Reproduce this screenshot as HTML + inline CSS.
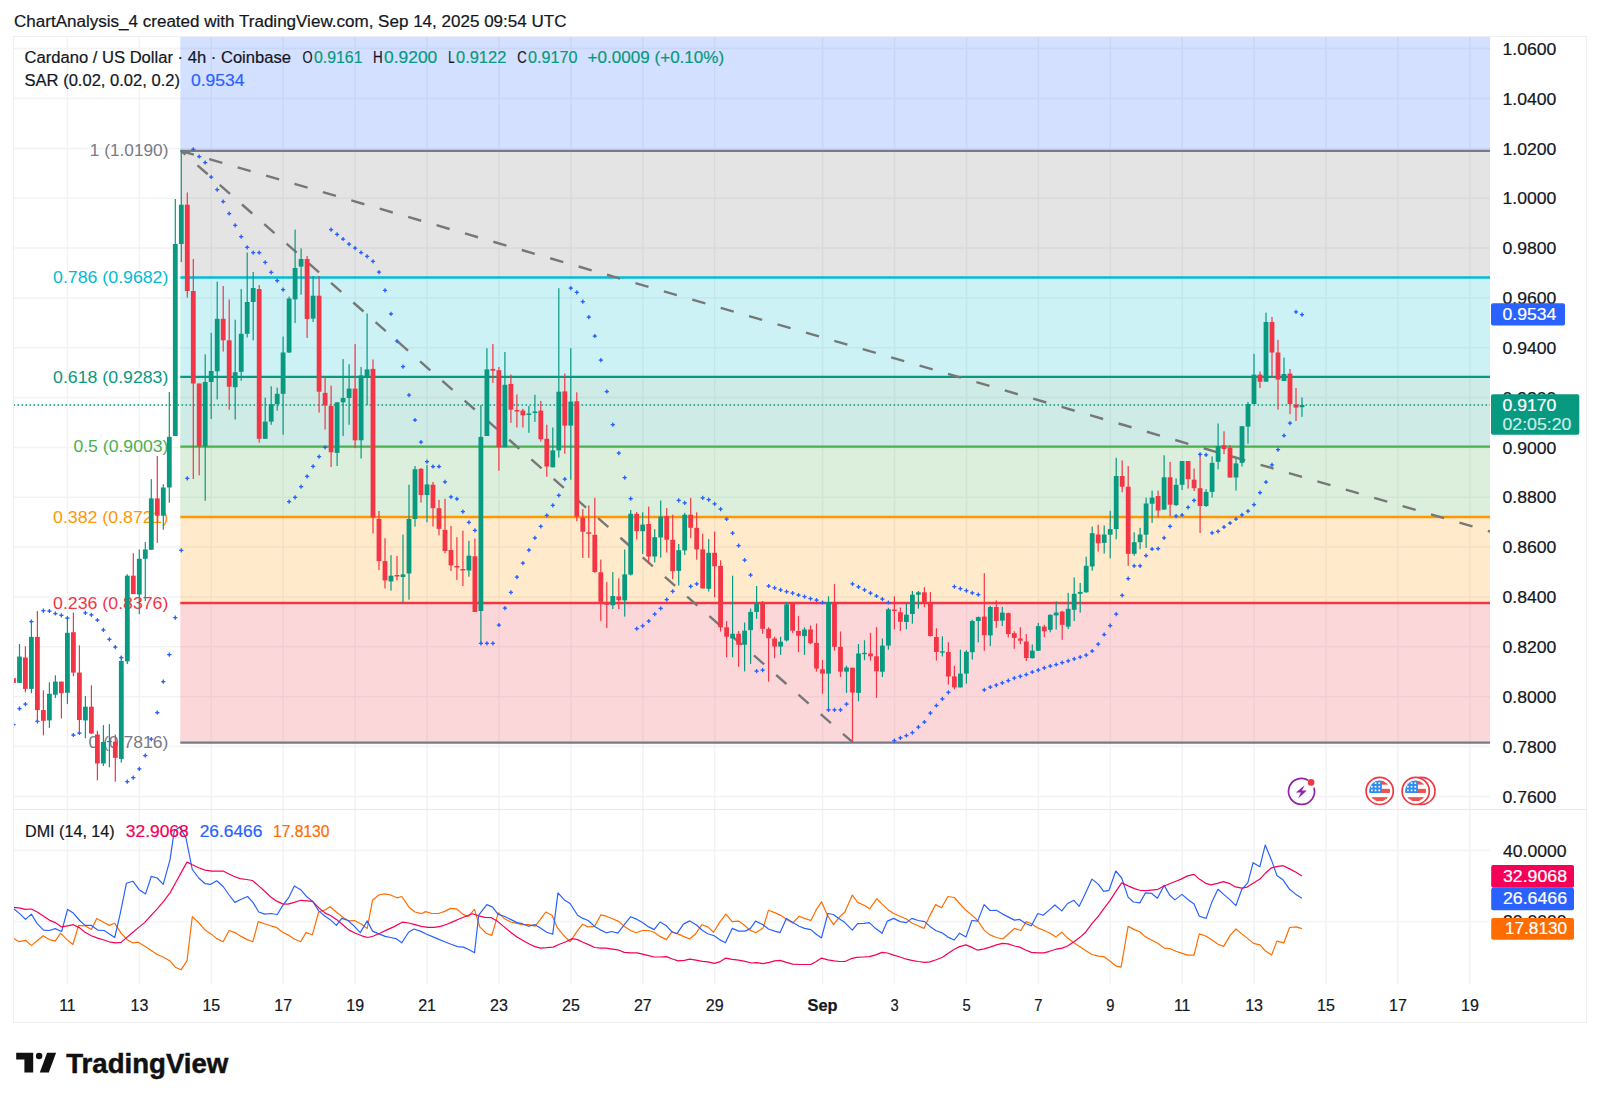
<!DOCTYPE html>
<html lang="en"><head><meta charset="utf-8"><title>ChartAnalysis_4 - TradingView</title>
<style>html,body{margin:0;padding:0;background:#fff}body{width:1600px;height:1103px;overflow:hidden}svg{display:block}</style></head>
<body>
<svg width="1600" height="1103" viewBox="0 0 1600 1103" font-family='"Liberation Sans", sans-serif' font-size="15.8">
<rect width="1600" height="1103" fill="#fff"/>
<defs>
<clipPath id="cm"><rect x="13.5" y="36.5" width="1476.5" height="773.0"/></clipPath>
<clipPath id="cd"><rect x="13.5" y="809.5" width="1476.5" height="174.5"/></clipPath>
</defs>
<g stroke="#f3f3f5" stroke-width="1.5">
<line x1="67.5" y1="36.5" x2="67.5" y2="984.0"/>
<line x1="139.4" y1="36.5" x2="139.4" y2="984.0"/>
<line x1="211.3" y1="36.5" x2="211.3" y2="984.0"/>
<line x1="283.2" y1="36.5" x2="283.2" y2="984.0"/>
<line x1="355.2" y1="36.5" x2="355.2" y2="984.0"/>
<line x1="427.1" y1="36.5" x2="427.1" y2="984.0"/>
<line x1="499.0" y1="36.5" x2="499.0" y2="984.0"/>
<line x1="570.9" y1="36.5" x2="570.9" y2="984.0"/>
<line x1="642.8" y1="36.5" x2="642.8" y2="984.0"/>
<line x1="714.7" y1="36.5" x2="714.7" y2="984.0"/>
<line x1="822.6" y1="36.5" x2="822.6" y2="984.0"/>
<line x1="894.5" y1="36.5" x2="894.5" y2="984.0"/>
<line x1="966.5" y1="36.5" x2="966.5" y2="984.0"/>
<line x1="1038.4" y1="36.5" x2="1038.4" y2="984.0"/>
<line x1="1110.3" y1="36.5" x2="1110.3" y2="984.0"/>
<line x1="1182.2" y1="36.5" x2="1182.2" y2="984.0"/>
<line x1="1254.1" y1="36.5" x2="1254.1" y2="984.0"/>
<line x1="1326.0" y1="36.5" x2="1326.0" y2="984.0"/>
<line x1="1397.9" y1="36.5" x2="1397.9" y2="984.0"/>
<line x1="1469.9" y1="36.5" x2="1469.9" y2="984.0"/>
<line x1="13.5" y1="48.6" x2="1490.0" y2="48.6"/>
<line x1="13.5" y1="98.5" x2="1490.0" y2="98.5"/>
<line x1="13.5" y1="148.4" x2="1490.0" y2="148.4"/>
<line x1="13.5" y1="198.2" x2="1490.0" y2="198.2"/>
<line x1="13.5" y1="248.0" x2="1490.0" y2="248.0"/>
<line x1="13.5" y1="297.9" x2="1490.0" y2="297.9"/>
<line x1="13.5" y1="347.7" x2="1490.0" y2="347.7"/>
<line x1="13.5" y1="397.6" x2="1490.0" y2="397.6"/>
<line x1="13.5" y1="447.5" x2="1490.0" y2="447.5"/>
<line x1="13.5" y1="497.3" x2="1490.0" y2="497.3"/>
<line x1="13.5" y1="547.1" x2="1490.0" y2="547.1"/>
<line x1="13.5" y1="597.0" x2="1490.0" y2="597.0"/>
<line x1="13.5" y1="646.8" x2="1490.0" y2="646.8"/>
<line x1="13.5" y1="696.7" x2="1490.0" y2="696.7"/>
<line x1="13.5" y1="746.6" x2="1490.0" y2="746.6"/>
<line x1="13.5" y1="796.4" x2="1490.0" y2="796.4"/>
<line x1="13.5" y1="850.4" x2="1490.0" y2="850.4"/>
<line x1="13.5" y1="921.6" x2="1490.0" y2="921.6"/>
</g>
<g clip-path="url(#cm)">
<rect x="180.3" y="36.5" width="1309.7" height="114.3" fill="#2962ff" fill-opacity="0.2"/>
<rect x="180.3" y="150.8" width="1309.7" height="126.6" fill="#78787c" fill-opacity="0.2"/>
<rect x="180.3" y="277.5" width="1309.7" height="99.5" fill="#00bcd4" fill-opacity="0.2"/>
<rect x="180.3" y="376.9" width="1309.7" height="69.8" fill="#089981" fill-opacity="0.2"/>
<rect x="180.3" y="446.7" width="1309.7" height="70.3" fill="#4caf50" fill-opacity="0.2"/>
<rect x="180.3" y="517.0" width="1309.7" height="86.0" fill="#ff9800" fill-opacity="0.2"/>
<rect x="180.3" y="603.0" width="1309.7" height="139.6" fill="#f23645" fill-opacity="0.2"/>
<text x="89.8" y="156.4" fill="#787b86" stroke="#787b86" stroke-width="0" textLength="78.6" lengthAdjust="spacingAndGlyphs">1 (1.0190)</text>
<text x="53.1" y="283.0" fill="#00bcd4" stroke="#00bcd4" stroke-width="0" textLength="115.3" lengthAdjust="spacingAndGlyphs">0.786 (0.9682)</text>
<text x="53.1" y="382.5" fill="#089981" stroke="#089981" stroke-width="0" textLength="115.3" lengthAdjust="spacingAndGlyphs">0.618 (0.9283)</text>
<text x="73.4" y="452.3" fill="#4caf50" stroke="#4caf50" stroke-width="0" textLength="95.0" lengthAdjust="spacingAndGlyphs">0.5 (0.9003)</text>
<text x="53.1" y="522.5" fill="#ff9800" stroke="#ff9800" stroke-width="0" textLength="115.3" lengthAdjust="spacingAndGlyphs">0.382 (0.8721)</text>
<text x="53.1" y="608.5" fill="#f23645" stroke="#f23645" stroke-width="0" textLength="115.3" lengthAdjust="spacingAndGlyphs">0.236 (0.8376)</text>
<text x="88.4" y="748.1" fill="#787b86" stroke="#787b86" stroke-width="0" textLength="80.0" lengthAdjust="spacingAndGlyphs">0 (0.7816)</text>
<line x1="180.3" y1="150.8" x2="1490.0" y2="150.8" stroke="#787b86" stroke-width="2.3"/>
<line x1="180.3" y1="277.5" x2="1490.0" y2="277.5" stroke="#00bcd4" stroke-width="2.3"/>
<line x1="180.3" y1="376.9" x2="1490.0" y2="376.9" stroke="#089981" stroke-width="2.3"/>
<line x1="180.3" y1="446.7" x2="1490.0" y2="446.7" stroke="#4caf50" stroke-width="2.3"/>
<line x1="180.3" y1="517.0" x2="1490.0" y2="517.0" stroke="#ff9800" stroke-width="2.3"/>
<line x1="180.3" y1="603.0" x2="1490.0" y2="603.0" stroke="#f23645" stroke-width="2.3"/>
<line x1="180.3" y1="742.6" x2="1490.0" y2="742.6" stroke="#787b86" stroke-width="2.3"/>
<g stroke="#777777" stroke-width="2.4" fill="none">
<line x1="181.3" y1="151" x2="1490.0" y2="531.5" stroke-dasharray="13.6 15.99" stroke-dashoffset="0.5"/>
<line x1="181.3" y1="151" x2="852.5" y2="742.2" stroke-dasharray="13.6 16.06" stroke-dashoffset="8.06"/>
</g>
<line x1="13.5" y1="405" x2="1490.0" y2="405" stroke="#089981" stroke-width="1.4" stroke-dasharray="1.6 2.4"/>
<g fill="#089981">
<rect x="18.9" y="644.0" width="1.2" height="38.9"/>
<rect x="17.1" y="656.6" width="4.8" height="26.3"/>
<rect x="30.8" y="621.0" width="1.2" height="72.2"/>
<rect x="29.0" y="636.9" width="4.8" height="52.0"/>
<rect x="48.8" y="682.3" width="1.2" height="45.6"/>
<rect x="47.0" y="693.8" width="4.8" height="26.6"/>
<rect x="54.8" y="675.4" width="1.2" height="22.5"/>
<rect x="53.0" y="681.6" width="4.8" height="13.1"/>
<rect x="66.8" y="618.1" width="1.2" height="86.0"/>
<rect x="65.0" y="632.8" width="4.8" height="60.0"/>
<rect x="84.8" y="696.0" width="1.2" height="42.2"/>
<rect x="83.0" y="706.7" width="4.8" height="13.7"/>
<rect x="102.8" y="725.1" width="1.2" height="40.9"/>
<rect x="101.0" y="742.0" width="4.8" height="21.5"/>
<rect x="108.8" y="724.1" width="1.2" height="43.2"/>
<rect x="107.0" y="741.0" width="4.8" height="1.2"/>
<rect x="120.7" y="656.6" width="1.2" height="106.0"/>
<rect x="118.9" y="660.9" width="4.8" height="98.0"/>
<rect x="126.7" y="574.2" width="1.2" height="89.9"/>
<rect x="124.9" y="575.7" width="4.8" height="85.6"/>
<rect x="138.7" y="549.5" width="1.2" height="64.7"/>
<rect x="136.9" y="558.8" width="4.8" height="35.7"/>
<rect x="144.7" y="542.0" width="1.2" height="59.0"/>
<rect x="142.9" y="549.5" width="4.8" height="9.3"/>
<rect x="150.7" y="479.1" width="1.2" height="70.7"/>
<rect x="148.9" y="498.4" width="4.8" height="51.4"/>
<rect x="162.7" y="484.2" width="1.2" height="45.6"/>
<rect x="160.9" y="487.5" width="4.8" height="28.2"/>
<rect x="168.7" y="392.0" width="1.2" height="110.6"/>
<rect x="166.9" y="436.9" width="4.8" height="50.6"/>
<rect x="174.7" y="199.0" width="1.2" height="237.0"/>
<rect x="172.9" y="244.0" width="4.8" height="192.0"/>
<rect x="180.7" y="150.3" width="1.2" height="111.7"/>
<rect x="178.9" y="204.7" width="4.8" height="39.3"/>
<rect x="204.6" y="354.4" width="1.2" height="146.3"/>
<rect x="202.8" y="382.0" width="4.8" height="64.3"/>
<rect x="210.6" y="332.8" width="1.2" height="86.2"/>
<rect x="208.8" y="371.0" width="4.8" height="11.0"/>
<rect x="216.6" y="281.6" width="1.2" height="117.8"/>
<rect x="214.8" y="318.8" width="4.8" height="52.5"/>
<rect x="234.6" y="319.7" width="1.2" height="99.8"/>
<rect x="232.8" y="372.2" width="4.8" height="15.0"/>
<rect x="240.6" y="289.0" width="1.2" height="91.7"/>
<rect x="238.8" y="333.8" width="4.8" height="38.0"/>
<rect x="246.6" y="252.5" width="1.2" height="85.0"/>
<rect x="244.8" y="302.0" width="4.8" height="31.8"/>
<rect x="252.6" y="272.0" width="1.2" height="68.3"/>
<rect x="250.8" y="288.0" width="4.8" height="14.0"/>
<rect x="264.6" y="397.6" width="1.2" height="41.2"/>
<rect x="262.8" y="421.6" width="4.8" height="17.2"/>
<rect x="270.6" y="386.3" width="1.2" height="38.5"/>
<rect x="268.8" y="404.1" width="4.8" height="17.5"/>
<rect x="276.6" y="387.6" width="1.2" height="23.1"/>
<rect x="274.8" y="393.8" width="4.8" height="10.3"/>
<rect x="282.5" y="336.6" width="1.2" height="98.1"/>
<rect x="280.7" y="352.5" width="4.8" height="41.3"/>
<rect x="288.5" y="296.6" width="1.2" height="56.4"/>
<rect x="286.7" y="298.5" width="4.8" height="54.0"/>
<rect x="294.5" y="229.6" width="1.2" height="93.4"/>
<rect x="292.7" y="268.0" width="4.8" height="31.4"/>
<rect x="300.5" y="248.4" width="1.2" height="46.3"/>
<rect x="298.7" y="259.0" width="4.8" height="7.6"/>
<rect x="312.5" y="276.0" width="1.2" height="46.0"/>
<rect x="310.7" y="295.7" width="4.8" height="22.9"/>
<rect x="336.5" y="402.3" width="1.2" height="63.7"/>
<rect x="334.7" y="402.3" width="4.8" height="50.6"/>
<rect x="342.5" y="359.1" width="1.2" height="76.9"/>
<rect x="340.7" y="398.0" width="4.8" height="4.3"/>
<rect x="348.5" y="364.2" width="1.2" height="60.6"/>
<rect x="346.7" y="388.6" width="4.8" height="9.4"/>
<rect x="360.5" y="367.0" width="1.2" height="91.5"/>
<rect x="358.7" y="375.4" width="4.8" height="64.9"/>
<rect x="366.5" y="313.5" width="1.2" height="91.5"/>
<rect x="364.7" y="369.4" width="4.8" height="7.0"/>
<rect x="390.4" y="555.1" width="1.2" height="35.6"/>
<rect x="388.6" y="575.7" width="4.8" height="5.7"/>
<rect x="402.4" y="534.5" width="1.2" height="68.1"/>
<rect x="400.6" y="574.4" width="4.8" height="2.6"/>
<rect x="408.4" y="484.7" width="1.2" height="115.0"/>
<rect x="406.6" y="519.0" width="4.8" height="54.5"/>
<rect x="414.4" y="466.0" width="1.2" height="60.6"/>
<rect x="412.6" y="469.2" width="4.8" height="49.8"/>
<rect x="426.4" y="465.0" width="1.2" height="57.3"/>
<rect x="424.6" y="484.4" width="4.8" height="10.6"/>
<rect x="468.3" y="540.7" width="1.2" height="36.0"/>
<rect x="466.5" y="555.7" width="4.8" height="14.8"/>
<rect x="480.3" y="405.0" width="1.2" height="238.8"/>
<rect x="478.5" y="436.9" width="4.8" height="174.1"/>
<rect x="486.3" y="348.2" width="1.2" height="87.8"/>
<rect x="484.5" y="369.4" width="4.8" height="66.6"/>
<rect x="504.3" y="352.0" width="1.2" height="95.2"/>
<rect x="502.5" y="384.8" width="4.8" height="62.4"/>
<rect x="528.3" y="406.0" width="1.2" height="26.8"/>
<rect x="526.5" y="413.5" width="4.8" height="1.5"/>
<rect x="534.3" y="394.7" width="1.2" height="27.2"/>
<rect x="532.5" y="411.5" width="4.8" height="1.5"/>
<rect x="552.2" y="427.5" width="1.2" height="39.8"/>
<rect x="550.4" y="450.4" width="4.8" height="16.9"/>
<rect x="558.2" y="288.2" width="1.2" height="169.3"/>
<rect x="556.4" y="391.7" width="4.8" height="58.7"/>
<rect x="570.2" y="348.2" width="1.2" height="131.5"/>
<rect x="568.4" y="401.6" width="4.8" height="24.0"/>
<rect x="612.2" y="572.1" width="1.2" height="36.9"/>
<rect x="610.4" y="596.0" width="4.8" height="9.3"/>
<rect x="624.1" y="549.5" width="1.2" height="67.1"/>
<rect x="622.3" y="574.4" width="4.8" height="26.0"/>
<rect x="630.1" y="510.0" width="1.2" height="65.5"/>
<rect x="628.3" y="513.8" width="4.8" height="60.8"/>
<rect x="642.1" y="512.3" width="1.2" height="41.7"/>
<rect x="640.3" y="524.6" width="4.8" height="6.6"/>
<rect x="654.1" y="529.1" width="1.2" height="33.3"/>
<rect x="652.3" y="537.2" width="4.8" height="19.3"/>
<rect x="660.1" y="500.6" width="1.2" height="57.1"/>
<rect x="658.3" y="516.6" width="4.8" height="20.9"/>
<rect x="678.1" y="544.0" width="1.2" height="41.5"/>
<rect x="676.3" y="550.2" width="4.8" height="20.7"/>
<rect x="684.1" y="512.8" width="1.2" height="42.2"/>
<rect x="682.3" y="514.7" width="4.8" height="35.7"/>
<rect x="708.1" y="539.1" width="1.2" height="52.5"/>
<rect x="706.3" y="552.8" width="4.8" height="36.0"/>
<rect x="732.0" y="575.7" width="1.2" height="81.6"/>
<rect x="730.2" y="633.8" width="4.8" height="4.7"/>
<rect x="744.0" y="622.6" width="1.2" height="48.8"/>
<rect x="742.2" y="630.7" width="4.8" height="14.0"/>
<rect x="750.0" y="608.5" width="1.2" height="55.4"/>
<rect x="748.2" y="611.9" width="4.8" height="18.2"/>
<rect x="756.0" y="586.0" width="1.2" height="32.8"/>
<rect x="754.2" y="603.8" width="4.8" height="8.1"/>
<rect x="780.0" y="636.7" width="1.2" height="18.2"/>
<rect x="778.2" y="641.7" width="4.8" height="4.9"/>
<rect x="786.0" y="602.0" width="1.2" height="39.4"/>
<rect x="784.2" y="604.4" width="4.8" height="36.0"/>
<rect x="803.9" y="627.3" width="1.2" height="27.6"/>
<rect x="802.1" y="629.5" width="4.8" height="6.6"/>
<rect x="827.9" y="596.3" width="1.2" height="113.5"/>
<rect x="826.1" y="602.0" width="4.8" height="71.6"/>
<rect x="845.9" y="665.7" width="1.2" height="27.2"/>
<rect x="844.1" y="667.5" width="4.8" height="4.2"/>
<rect x="857.9" y="643.9" width="1.2" height="57.4"/>
<rect x="856.1" y="653.5" width="4.8" height="39.4"/>
<rect x="863.9" y="640.3" width="1.2" height="19.9"/>
<rect x="862.1" y="652.8" width="4.8" height="1.4"/>
<rect x="881.8" y="638.5" width="1.2" height="38.5"/>
<rect x="880.0" y="645.6" width="4.8" height="26.1"/>
<rect x="887.8" y="607.8" width="1.2" height="41.9"/>
<rect x="886.0" y="609.3" width="4.8" height="36.3"/>
<rect x="905.8" y="603.5" width="1.2" height="25.8"/>
<rect x="904.0" y="614.7" width="4.8" height="7.3"/>
<rect x="911.8" y="591.0" width="1.2" height="32.6"/>
<rect x="910.0" y="594.7" width="4.8" height="19.3"/>
<rect x="917.8" y="591.0" width="1.2" height="17.6"/>
<rect x="916.0" y="592.3" width="4.8" height="2.4"/>
<rect x="941.8" y="636.3" width="1.2" height="20.2"/>
<rect x="940.0" y="651.3" width="4.8" height="1.4"/>
<rect x="959.8" y="649.6" width="1.2" height="37.8"/>
<rect x="958.0" y="673.6" width="4.8" height="13.8"/>
<rect x="965.8" y="650.2" width="1.2" height="33.5"/>
<rect x="964.0" y="651.8" width="4.8" height="21.8"/>
<rect x="971.7" y="619.7" width="1.2" height="39.9"/>
<rect x="969.9" y="621.0" width="4.8" height="31.2"/>
<rect x="977.7" y="616.5" width="1.2" height="25.9"/>
<rect x="975.9" y="617.1" width="4.8" height="3.9"/>
<rect x="989.7" y="605.8" width="1.2" height="40.2"/>
<rect x="987.9" y="607.0" width="4.8" height="28.4"/>
<rect x="1001.7" y="606.9" width="1.2" height="19.2"/>
<rect x="999.9" y="612.6" width="4.8" height="8.0"/>
<rect x="1031.7" y="644.5" width="1.2" height="14.0"/>
<rect x="1029.9" y="650.7" width="4.8" height="7.5"/>
<rect x="1037.7" y="622.9" width="1.2" height="28.1"/>
<rect x="1035.9" y="626.1" width="4.8" height="24.6"/>
<rect x="1049.7" y="614.4" width="1.2" height="17.9"/>
<rect x="1047.9" y="614.8" width="4.8" height="15.0"/>
<rect x="1055.6" y="601.3" width="1.2" height="28.2"/>
<rect x="1053.8" y="612.6" width="4.8" height="2.8"/>
<rect x="1067.6" y="592.9" width="1.2" height="36.2"/>
<rect x="1065.8" y="608.8" width="4.8" height="17.8"/>
<rect x="1073.6" y="577.3" width="1.2" height="43.7"/>
<rect x="1071.8" y="593.8" width="4.8" height="16.0"/>
<rect x="1079.6" y="582.9" width="1.2" height="29.7"/>
<rect x="1077.8" y="591.9" width="4.8" height="1.9"/>
<rect x="1085.6" y="556.7" width="1.2" height="36.1"/>
<rect x="1083.8" y="565.8" width="4.8" height="26.5"/>
<rect x="1091.6" y="526.6" width="1.2" height="44.1"/>
<rect x="1089.8" y="533.2" width="4.8" height="33.2"/>
<rect x="1103.6" y="525.5" width="1.2" height="28.1"/>
<rect x="1101.8" y="534.5" width="4.8" height="8.4"/>
<rect x="1109.6" y="510.8" width="1.2" height="47.6"/>
<rect x="1107.8" y="529.1" width="4.8" height="5.6"/>
<rect x="1115.6" y="457.8" width="1.2" height="81.5"/>
<rect x="1113.8" y="476.0" width="4.8" height="53.1"/>
<rect x="1133.6" y="532.3" width="1.2" height="23.4"/>
<rect x="1131.8" y="542.2" width="4.8" height="11.6"/>
<rect x="1139.5" y="527.8" width="1.2" height="21.4"/>
<rect x="1137.7" y="534.5" width="4.8" height="7.7"/>
<rect x="1145.5" y="497.6" width="1.2" height="50.4"/>
<rect x="1143.7" y="503.5" width="4.8" height="31.2"/>
<rect x="1151.5" y="490.6" width="1.2" height="32.3"/>
<rect x="1149.7" y="497.6" width="4.8" height="6.1"/>
<rect x="1163.5" y="455.3" width="1.2" height="54.5"/>
<rect x="1161.7" y="477.3" width="4.8" height="32.3"/>
<rect x="1175.5" y="478.4" width="1.2" height="27.6"/>
<rect x="1173.7" y="484.8" width="4.8" height="20.3"/>
<rect x="1181.5" y="461.0" width="1.2" height="29.0"/>
<rect x="1179.7" y="461.0" width="4.8" height="23.8"/>
<rect x="1205.5" y="489.1" width="1.2" height="17.8"/>
<rect x="1203.7" y="491.9" width="4.8" height="14.1"/>
<rect x="1211.5" y="456.4" width="1.2" height="41.2"/>
<rect x="1209.7" y="462.9" width="4.8" height="29.0"/>
<rect x="1217.5" y="423.5" width="1.2" height="45.8"/>
<rect x="1215.7" y="446.2" width="4.8" height="15.6"/>
<rect x="1235.4" y="459.1" width="1.2" height="31.5"/>
<rect x="1233.6" y="463.4" width="4.8" height="14.1"/>
<rect x="1241.4" y="426.0" width="1.2" height="40.6"/>
<rect x="1239.6" y="426.2" width="4.8" height="36.7"/>
<rect x="1247.4" y="401.9" width="1.2" height="41.8"/>
<rect x="1245.6" y="404.0" width="4.8" height="22.6"/>
<rect x="1253.4" y="353.8" width="1.2" height="50.2"/>
<rect x="1251.6" y="374.6" width="4.8" height="29.4"/>
<rect x="1265.4" y="312.6" width="1.2" height="69.1"/>
<rect x="1263.6" y="322.0" width="4.8" height="59.7"/>
<rect x="1283.4" y="357.6" width="1.2" height="23.4"/>
<rect x="1281.6" y="374.0" width="4.8" height="7.0"/>
<rect x="1301.4" y="397.5" width="1.2" height="19.4"/>
<rect x="1299.6" y="405.0" width="4.8" height="2.2"/>
</g>
<g fill="#f23645">
<rect x="12.9" y="678.2" width="1.2" height="4.7"/>
<rect x="11.1" y="678.2" width="4.8" height="4.7"/>
<rect x="24.8" y="646.3" width="1.2" height="46.0"/>
<rect x="23.0" y="657.5" width="4.8" height="31.4"/>
<rect x="36.8" y="611.0" width="1.2" height="110.3"/>
<rect x="35.0" y="636.9" width="4.8" height="73.2"/>
<rect x="42.8" y="690.4" width="1.2" height="45.0"/>
<rect x="41.0" y="710.1" width="4.8" height="10.7"/>
<rect x="60.8" y="681.6" width="1.2" height="36.9"/>
<rect x="59.0" y="681.6" width="4.8" height="11.6"/>
<rect x="72.8" y="612.5" width="1.2" height="63.8"/>
<rect x="71.0" y="632.2" width="4.8" height="40.4"/>
<rect x="78.8" y="645.3" width="1.2" height="86.4"/>
<rect x="77.0" y="672.6" width="4.8" height="47.4"/>
<rect x="90.8" y="685.3" width="1.2" height="48.7"/>
<rect x="89.0" y="706.7" width="4.8" height="26.8"/>
<rect x="96.8" y="730.7" width="1.2" height="49.7"/>
<rect x="95.0" y="734.5" width="4.8" height="29.0"/>
<rect x="114.7" y="734.5" width="1.2" height="47.2"/>
<rect x="112.9" y="741.6" width="4.8" height="16.3"/>
<rect x="132.7" y="553.2" width="1.2" height="40.9"/>
<rect x="130.9" y="575.7" width="4.8" height="18.4"/>
<rect x="156.7" y="456.0" width="1.2" height="86.9"/>
<rect x="154.9" y="498.4" width="4.8" height="17.3"/>
<rect x="186.7" y="192.5" width="1.2" height="105.1"/>
<rect x="184.9" y="204.7" width="4.8" height="86.3"/>
<rect x="192.7" y="259.0" width="1.2" height="220.0"/>
<rect x="190.9" y="291.0" width="4.8" height="92.5"/>
<rect x="198.6" y="383.5" width="1.2" height="91.9"/>
<rect x="196.8" y="383.5" width="4.8" height="62.8"/>
<rect x="222.6" y="286.0" width="1.2" height="65.6"/>
<rect x="220.8" y="318.8" width="4.8" height="21.5"/>
<rect x="228.6" y="299.5" width="1.2" height="110.2"/>
<rect x="226.8" y="340.3" width="4.8" height="46.4"/>
<rect x="258.6" y="285.0" width="1.2" height="157.6"/>
<rect x="256.8" y="289.0" width="4.8" height="149.8"/>
<rect x="306.5" y="256.0" width="1.2" height="82.0"/>
<rect x="304.7" y="259.0" width="4.8" height="60.0"/>
<rect x="318.5" y="276.0" width="1.2" height="136.6"/>
<rect x="316.7" y="295.7" width="4.8" height="96.0"/>
<rect x="324.5" y="376.4" width="1.2" height="53.1"/>
<rect x="322.7" y="392.9" width="4.8" height="12.5"/>
<rect x="330.5" y="385.7" width="1.2" height="81.3"/>
<rect x="328.7" y="406.0" width="4.8" height="46.3"/>
<rect x="354.5" y="344.0" width="1.2" height="104.2"/>
<rect x="352.7" y="388.6" width="4.8" height="51.7"/>
<rect x="372.4" y="359.5" width="1.2" height="174.0"/>
<rect x="370.6" y="368.9" width="4.8" height="148.7"/>
<rect x="378.4" y="511.0" width="1.2" height="59.1"/>
<rect x="376.6" y="519.0" width="4.8" height="42.1"/>
<rect x="384.4" y="538.2" width="1.2" height="50.3"/>
<rect x="382.6" y="561.1" width="4.8" height="19.3"/>
<rect x="396.4" y="556.0" width="1.2" height="24.4"/>
<rect x="394.6" y="575.0" width="4.8" height="1.5"/>
<rect x="420.4" y="468.0" width="1.2" height="34.6"/>
<rect x="418.6" y="468.8" width="4.8" height="26.2"/>
<rect x="432.4" y="481.9" width="1.2" height="44.7"/>
<rect x="430.6" y="484.7" width="4.8" height="23.5"/>
<rect x="438.4" y="499.8" width="1.2" height="35.6"/>
<rect x="436.6" y="508.2" width="4.8" height="20.6"/>
<rect x="444.4" y="498.8" width="1.2" height="54.4"/>
<rect x="442.6" y="529.8" width="4.8" height="21.2"/>
<rect x="450.4" y="526.0" width="1.2" height="45.0"/>
<rect x="448.6" y="550.0" width="4.8" height="15.4"/>
<rect x="456.3" y="537.3" width="1.2" height="42.6"/>
<rect x="454.5" y="566.0" width="4.8" height="1.5"/>
<rect x="462.3" y="530.7" width="1.2" height="55.3"/>
<rect x="460.5" y="569.0" width="4.8" height="1.5"/>
<rect x="474.3" y="538.5" width="1.2" height="73.5"/>
<rect x="472.5" y="556.3" width="4.8" height="55.7"/>
<rect x="492.3" y="344.0" width="1.2" height="38.9"/>
<rect x="490.5" y="368.9" width="4.8" height="1.8"/>
<rect x="498.3" y="367.0" width="1.2" height="103.7"/>
<rect x="496.5" y="370.2" width="4.8" height="77.0"/>
<rect x="510.3" y="374.5" width="1.2" height="48.3"/>
<rect x="508.5" y="383.9" width="4.8" height="25.8"/>
<rect x="516.3" y="394.5" width="1.2" height="33.0"/>
<rect x="514.5" y="410.0" width="4.8" height="1.5"/>
<rect x="522.3" y="408.8" width="1.2" height="18.7"/>
<rect x="520.5" y="410.6" width="4.8" height="4.7"/>
<rect x="540.2" y="401.0" width="1.2" height="40.6"/>
<rect x="538.4" y="410.6" width="4.8" height="28.6"/>
<rect x="546.2" y="424.7" width="1.2" height="52.0"/>
<rect x="544.4" y="438.8" width="4.8" height="27.7"/>
<rect x="564.2" y="373.5" width="1.2" height="80.3"/>
<rect x="562.4" y="391.4" width="4.8" height="34.2"/>
<rect x="576.2" y="392.3" width="1.2" height="129.0"/>
<rect x="574.4" y="401.3" width="4.8" height="115.3"/>
<rect x="582.2" y="509.1" width="1.2" height="48.8"/>
<rect x="580.4" y="517.6" width="4.8" height="14.1"/>
<rect x="588.2" y="505.4" width="1.2" height="52.5"/>
<rect x="586.4" y="532.3" width="4.8" height="1.5"/>
<rect x="594.2" y="497.9" width="1.2" height="75.0"/>
<rect x="592.4" y="534.8" width="4.8" height="37.2"/>
<rect x="600.2" y="559.6" width="1.2" height="61.4"/>
<rect x="598.4" y="572.3" width="4.8" height="29.5"/>
<rect x="606.2" y="582.2" width="1.2" height="45.8"/>
<rect x="604.4" y="603.3" width="4.8" height="1.5"/>
<rect x="618.2" y="578.4" width="1.2" height="30.6"/>
<rect x="616.4" y="596.4" width="4.8" height="3.8"/>
<rect x="636.1" y="511.9" width="1.2" height="27.5"/>
<rect x="634.3" y="513.8" width="4.8" height="17.4"/>
<rect x="648.1" y="506.6" width="1.2" height="56.7"/>
<rect x="646.3" y="524.0" width="4.8" height="32.5"/>
<rect x="666.1" y="508.1" width="1.2" height="44.4"/>
<rect x="664.3" y="516.0" width="4.8" height="23.7"/>
<rect x="672.1" y="514.7" width="1.2" height="64.5"/>
<rect x="670.3" y="539.8" width="4.8" height="31.4"/>
<rect x="690.1" y="497.8" width="1.2" height="40.4"/>
<rect x="688.3" y="514.7" width="4.8" height="13.1"/>
<rect x="696.1" y="512.3" width="1.2" height="47.4"/>
<rect x="694.3" y="527.8" width="4.8" height="21.6"/>
<rect x="702.1" y="533.8" width="1.2" height="54.6"/>
<rect x="700.3" y="549.4" width="4.8" height="39.0"/>
<rect x="714.0" y="531.6" width="1.2" height="65.7"/>
<rect x="712.2" y="552.8" width="4.8" height="13.5"/>
<rect x="720.0" y="560.3" width="1.2" height="71.3"/>
<rect x="718.2" y="565.9" width="4.8" height="61.4"/>
<rect x="726.0" y="621.0" width="1.2" height="36.3"/>
<rect x="724.2" y="627.3" width="4.8" height="9.4"/>
<rect x="738.0" y="631.0" width="1.2" height="35.7"/>
<rect x="736.2" y="633.8" width="4.8" height="10.9"/>
<rect x="762.0" y="601.0" width="1.2" height="32.8"/>
<rect x="760.2" y="602.9" width="4.8" height="25.9"/>
<rect x="768.0" y="627.3" width="1.2" height="54.4"/>
<rect x="766.2" y="628.8" width="4.8" height="9.4"/>
<rect x="774.0" y="636.7" width="1.2" height="21.5"/>
<rect x="772.2" y="638.5" width="4.8" height="8.1"/>
<rect x="792.0" y="602.9" width="1.2" height="30.0"/>
<rect x="790.2" y="602.9" width="4.8" height="27.8"/>
<rect x="797.9" y="616.0" width="1.2" height="36.2"/>
<rect x="796.1" y="631.0" width="4.8" height="4.7"/>
<rect x="809.9" y="625.4" width="1.2" height="18.8"/>
<rect x="808.1" y="629.5" width="4.8" height="13.7"/>
<rect x="815.9" y="623.5" width="1.2" height="48.2"/>
<rect x="814.1" y="642.9" width="4.8" height="25.7"/>
<rect x="821.9" y="660.0" width="1.2" height="33.8"/>
<rect x="820.1" y="669.3" width="4.8" height="4.3"/>
<rect x="833.9" y="584.1" width="1.2" height="66.6"/>
<rect x="832.1" y="602.0" width="4.8" height="44.8"/>
<rect x="839.9" y="631.5" width="1.2" height="45.5"/>
<rect x="838.1" y="646.8" width="4.8" height="24.9"/>
<rect x="851.9" y="667.7" width="1.2" height="74.0"/>
<rect x="850.1" y="667.7" width="4.8" height="24.8"/>
<rect x="869.9" y="632.8" width="1.2" height="27.9"/>
<rect x="868.1" y="653.5" width="4.8" height="2.8"/>
<rect x="875.9" y="627.2" width="1.2" height="70.7"/>
<rect x="874.1" y="656.3" width="4.8" height="15.0"/>
<rect x="893.8" y="596.3" width="1.2" height="33.1"/>
<rect x="892.0" y="609.5" width="4.8" height="1.5"/>
<rect x="899.8" y="607.5" width="1.2" height="23.5"/>
<rect x="898.0" y="612.2" width="4.8" height="9.6"/>
<rect x="923.8" y="587.2" width="1.2" height="20.0"/>
<rect x="922.0" y="592.3" width="4.8" height="11.7"/>
<rect x="929.8" y="591.9" width="1.2" height="44.6"/>
<rect x="928.0" y="602.0" width="4.8" height="34.0"/>
<rect x="935.8" y="628.3" width="1.2" height="32.2"/>
<rect x="934.0" y="637.0" width="4.8" height="15.0"/>
<rect x="947.8" y="642.2" width="1.2" height="42.4"/>
<rect x="946.0" y="652.0" width="4.8" height="24.4"/>
<rect x="953.8" y="665.8" width="1.2" height="23.5"/>
<rect x="952.0" y="676.4" width="4.8" height="11.0"/>
<rect x="983.7" y="573.2" width="1.2" height="77.6"/>
<rect x="981.9" y="616.6" width="4.8" height="18.6"/>
<rect x="995.7" y="600.4" width="1.2" height="27.4"/>
<rect x="993.9" y="607.0" width="4.8" height="14.0"/>
<rect x="1007.7" y="612.6" width="1.2" height="24.9"/>
<rect x="1005.9" y="613.1" width="4.8" height="21.0"/>
<rect x="1013.7" y="631.3" width="1.2" height="17.5"/>
<rect x="1011.9" y="633.2" width="4.8" height="4.7"/>
<rect x="1019.7" y="627.2" width="1.2" height="16.9"/>
<rect x="1017.9" y="638.5" width="4.8" height="2.2"/>
<rect x="1025.7" y="634.1" width="1.2" height="26.9"/>
<rect x="1023.9" y="641.6" width="4.8" height="16.4"/>
<rect x="1043.7" y="624.8" width="1.2" height="12.2"/>
<rect x="1041.9" y="626.6" width="4.8" height="4.7"/>
<rect x="1061.6" y="610.7" width="1.2" height="29.1"/>
<rect x="1059.8" y="611.6" width="4.8" height="13.2"/>
<rect x="1097.6" y="524.8" width="1.2" height="26.8"/>
<rect x="1095.8" y="534.5" width="4.8" height="8.8"/>
<rect x="1121.6" y="460.4" width="1.2" height="31.9"/>
<rect x="1119.8" y="476.0" width="4.8" height="10.7"/>
<rect x="1127.6" y="466.0" width="1.2" height="99.8"/>
<rect x="1125.8" y="486.7" width="4.8" height="67.1"/>
<rect x="1157.5" y="490.6" width="1.2" height="26.7"/>
<rect x="1155.7" y="496.0" width="4.8" height="14.5"/>
<rect x="1169.5" y="461.9" width="1.2" height="54.3"/>
<rect x="1167.7" y="477.3" width="4.8" height="27.4"/>
<rect x="1187.5" y="461.0" width="1.2" height="27.6"/>
<rect x="1185.7" y="461.0" width="4.8" height="18.2"/>
<rect x="1193.5" y="468.5" width="1.2" height="22.5"/>
<rect x="1191.7" y="479.7" width="4.8" height="8.5"/>
<rect x="1199.5" y="453.5" width="1.2" height="79.5"/>
<rect x="1197.7" y="488.2" width="4.8" height="17.8"/>
<rect x="1223.4" y="431.3" width="1.2" height="22.9"/>
<rect x="1221.6" y="445.3" width="4.8" height="3.8"/>
<rect x="1229.4" y="445.0" width="1.2" height="32.6"/>
<rect x="1227.6" y="447.8" width="4.8" height="29.7"/>
<rect x="1259.4" y="371.5" width="1.2" height="16.5"/>
<rect x="1257.6" y="374.6" width="4.8" height="7.1"/>
<rect x="1271.4" y="317.0" width="1.2" height="59.6"/>
<rect x="1269.6" y="322.0" width="4.8" height="30.5"/>
<rect x="1277.4" y="339.8" width="1.2" height="69.8"/>
<rect x="1275.6" y="352.5" width="4.8" height="27.1"/>
<rect x="1289.4" y="369.0" width="1.2" height="45.2"/>
<rect x="1287.6" y="373.6" width="4.8" height="30.4"/>
<rect x="1295.4" y="388.0" width="1.2" height="33.0"/>
<rect x="1293.6" y="404.5" width="4.8" height="3.1"/>
</g>
<path d="M11.4 724.5h4.2M13.5 722.4v4.2M17.4 708.6h4.2M19.5 706.5v4.2M23.3 704.1h4.2M25.4 702.0v4.2M29.3 621.5h4.2M31.4 619.4v4.2M35.3 721.3h4.2M37.4 719.2v4.2M41.3 610.6h4.2M43.4 608.5v4.2M47.3 611.0h4.2M49.4 608.9v4.2M53.3 613.5h4.2M55.4 611.4v4.2M59.3 615.3h4.2M61.4 613.2v4.2M65.3 618.1h4.2M67.4 616.0v4.2M71.3 735.0h4.2M73.4 732.9v4.2M77.3 733.0h4.2M79.4 730.9v4.2M83.3 612.9h4.2M85.4 610.8v4.2M89.3 614.8h4.2M91.4 612.7v4.2M95.3 620.0h4.2M97.4 617.9v4.2M101.3 629.8h4.2M103.4 627.7v4.2M107.3 639.3h4.2M109.4 637.2v4.2M113.2 647.2h4.2M115.3 645.1v4.2M119.2 657.5h4.2M121.3 655.4v4.2M125.2 781.7h4.2M127.3 779.6v4.2M131.2 777.6h4.2M133.3 775.5v4.2M137.2 768.8h4.2M139.3 766.7v4.2M143.2 755.5h4.2M145.3 753.4v4.2M149.2 739.2h4.2M151.3 737.1v4.2M155.2 712.5h4.2M157.3 710.4v4.2M161.2 681.6h4.2M163.3 679.5v4.2M167.2 654.7h4.2M169.3 652.6v4.2M173.2 617.6h4.2M175.3 615.5v4.2M179.2 550.4h4.2M181.3 548.3v4.2M185.2 478.4h4.2M187.3 476.3v4.2M191.2 149.4h4.2M193.3 147.3v4.2M197.1 156.5h4.2M199.2 154.4v4.2M203.1 162.5h4.2M205.2 160.4v4.2M209.1 177.0h4.2M211.2 174.9v4.2M215.1 189.7h4.2M217.2 187.6v4.2M221.1 201.5h4.2M223.2 199.4v4.2M227.1 213.5h4.2M229.2 211.4v4.2M233.1 225.4h4.2M235.2 223.3v4.2M239.1 236.6h4.2M241.2 234.5v4.2M245.1 247.3h4.2M247.2 245.2v4.2M251.1 252.6h4.2M253.2 250.5v4.2M257.1 252.6h4.2M259.2 250.5v4.2M263.1 262.3h4.2M265.2 260.2v4.2M269.1 272.3h4.2M271.2 270.2v4.2M275.1 280.7h4.2M277.2 278.6v4.2M281.0 289.6h4.2M283.1 287.5v4.2M287.0 501.7h4.2M289.1 499.6v4.2M293.0 497.4h4.2M295.1 495.3v4.2M299.0 486.7h4.2M301.1 484.6v4.2M305.0 476.4h4.2M307.1 474.3v4.2M311.0 466.4h4.2M313.1 464.3v4.2M317.0 456.7h4.2M319.1 454.6v4.2M323.0 447.3h4.2M325.1 445.2v4.2M329.0 229.6h4.2M331.1 227.5v4.2M335.0 234.3h4.2M337.1 232.2v4.2M341.0 239.0h4.2M343.1 236.9v4.2M347.0 244.1h4.2M349.1 242.0v4.2M353.0 248.2h4.2M355.1 246.1v4.2M359.0 252.5h4.2M361.1 250.4v4.2M365.0 256.3h4.2M367.1 254.2v4.2M370.9 261.4h4.2M373.0 259.3v4.2M376.9 272.2h4.2M379.0 270.1v4.2M382.9 290.4h4.2M385.0 288.3v4.2M388.9 313.9h4.2M391.0 311.8v4.2M394.9 341.1h4.2M397.0 339.0v4.2M400.9 366.6h4.2M403.0 364.5v4.2M406.9 395.2h4.2M409.0 393.1v4.2M412.9 420.0h4.2M415.0 417.9v4.2M418.9 442.2h4.2M421.0 440.1v4.2M424.9 461.7h4.2M427.0 459.6v4.2M430.9 466.5h4.2M433.0 464.4v4.2M436.9 466.5h4.2M439.0 464.4v4.2M442.9 481.9h4.2M445.0 479.8v4.2M448.9 496.9h4.2M451.0 494.8v4.2M454.8 498.8h4.2M456.9 496.7v4.2M460.8 511.6h4.2M462.9 509.5v4.2M466.8 522.3h4.2M468.9 520.2v4.2M472.8 530.3h4.2M474.9 528.2v4.2M478.8 643.3h4.2M480.9 641.2v4.2M484.8 643.3h4.2M486.9 641.2v4.2M490.8 643.3h4.2M492.9 641.2v4.2M496.8 625.0h4.2M498.9 622.9v4.2M502.8 608.2h4.2M504.9 606.1v4.2M508.8 592.3h4.2M510.9 590.2v4.2M514.8 577.2h4.2M516.9 575.1v4.2M520.8 563.2h4.2M522.9 561.1v4.2M526.8 550.2h4.2M528.9 548.1v4.2M532.8 537.8h4.2M534.9 535.7v4.2M538.7 526.3h4.2M540.8 524.2v4.2M544.7 515.3h4.2M546.8 513.2v4.2M550.7 505.4h4.2M552.8 503.3v4.2M556.7 495.4h4.2M558.8 493.3v4.2M562.7 479.1h4.2M564.8 477.0v4.2M568.7 288.2h4.2M570.8 286.1v4.2M574.7 292.3h4.2M576.8 290.2v4.2M580.7 301.7h4.2M582.8 299.6v4.2M586.7 317.2h4.2M588.8 315.1v4.2M592.7 336.0h4.2M594.8 333.9v4.2M598.7 360.2h4.2M600.8 358.1v4.2M604.7 391.5h4.2M606.8 389.4v4.2M610.7 424.7h4.2M612.8 422.6v4.2M616.7 453.2h4.2M618.8 451.1v4.2M622.6 477.6h4.2M624.7 475.5v4.2M628.6 498.6h4.2M630.7 496.5v4.2M634.6 628.6h4.2M636.7 626.5v4.2M640.6 625.9h4.2M642.7 623.8v4.2M646.6 621.0h4.2M648.7 618.9v4.2M652.6 614.2h4.2M654.7 612.1v4.2M658.6 608.4h4.2M660.7 606.3v4.2M664.6 599.5h4.2M666.7 597.4v4.2M670.6 591.3h4.2M672.7 589.2v4.2M676.6 500.3h4.2M678.7 498.2v4.2M682.6 502.9h4.2M684.7 500.8v4.2M688.6 586.4h4.2M690.7 584.3v4.2M694.6 583.8h4.2M696.7 581.7v4.2M700.6 497.8h4.2M702.7 495.7v4.2M706.6 499.7h4.2M708.7 497.6v4.2M712.5 503.8h4.2M714.6 501.7v4.2M718.5 509.1h4.2M720.6 507.0v4.2M724.5 519.0h4.2M726.6 516.9v4.2M730.5 533.1h4.2M732.6 531.0v4.2M736.5 545.7h4.2M738.6 543.6v4.2M742.5 560.1h4.2M744.6 558.0v4.2M748.5 575.1h4.2M750.6 573.0v4.2M754.5 671.2h4.2M756.6 669.1v4.2M760.5 670.2h4.2M762.6 668.1v4.2M766.5 586.0h4.2M768.6 583.9v4.2M772.5 587.9h4.2M774.6 585.8v4.2M778.5 589.8h4.2M780.6 587.7v4.2M784.5 591.6h4.2M786.6 589.5v4.2M790.5 593.1h4.2M792.6 591.0v4.2M796.4 595.0h4.2M798.5 592.9v4.2M802.4 596.7h4.2M804.5 594.6v4.2M808.4 598.6h4.2M810.5 596.5v4.2M814.4 600.0h4.2M816.5 597.9v4.2M820.4 602.5h4.2M822.5 600.4v4.2M826.4 709.8h4.2M828.5 707.7v4.2M832.4 709.8h4.2M834.5 707.7v4.2M838.4 709.8h4.2M840.5 707.7v4.2M844.4 704.1h4.2M846.5 702.0v4.2M850.4 583.8h4.2M852.5 581.7v4.2M856.4 586.9h4.2M858.5 584.8v4.2M862.4 589.8h4.2M864.5 587.7v4.2M868.4 593.1h4.2M870.5 591.0v4.2M874.4 596.0h4.2M876.5 593.9v4.2M880.3 599.1h4.2M882.4 597.0v4.2M886.3 602.5h4.2M888.4 600.4v4.2M892.3 740.7h4.2M894.4 738.6v4.2M898.3 737.9h4.2M900.4 735.8v4.2M904.3 735.5h4.2M906.4 733.4v4.2M910.3 732.6h4.2M912.4 730.5v4.2M916.3 727.2h4.2M918.4 725.1v4.2M922.3 722.0h4.2M924.4 719.9v4.2M928.3 713.1h4.2M930.4 711.0v4.2M934.3 705.5h4.2M936.4 703.4v4.2M940.3 698.9h4.2M942.4 696.8v4.2M946.3 692.4h4.2M948.4 690.3v4.2M952.3 586.7h4.2M954.4 584.6v4.2M958.3 588.7h4.2M960.4 586.6v4.2M964.2 590.6h4.2M966.4 588.5v4.2M970.2 592.9h4.2M972.3 590.8v4.2M976.2 594.7h4.2M978.3 592.6v4.2M982.2 689.8h4.2M984.3 687.7v4.2M988.2 687.0h4.2M990.3 684.9v4.2M994.2 685.1h4.2M996.3 683.0v4.2M1000.2 682.9h4.2M1002.3 680.8v4.2M1006.2 680.7h4.2M1008.3 678.6v4.2M1012.2 678.2h4.2M1014.3 676.1v4.2M1018.2 676.4h4.2M1020.3 674.3v4.2M1024.2 674.5h4.2M1026.3 672.4v4.2M1030.2 672.0h4.2M1032.3 669.9v4.2M1036.2 670.2h4.2M1038.3 668.1v4.2M1042.2 667.9h4.2M1044.3 665.8v4.2M1048.2 666.0h4.2M1050.3 663.9v4.2M1054.1 664.5h4.2M1056.2 662.4v4.2M1060.1 662.7h4.2M1062.2 660.6v4.2M1066.1 660.8h4.2M1068.2 658.7v4.2M1072.1 658.9h4.2M1074.2 656.8v4.2M1078.1 657.2h4.2M1080.2 655.1v4.2M1084.1 655.2h4.2M1086.2 653.1v4.2M1090.1 651.0h4.2M1092.2 648.9v4.2M1096.1 644.1h4.2M1098.2 642.0v4.2M1102.1 634.5h4.2M1104.2 632.4v4.2M1108.1 625.7h4.2M1110.2 623.6v4.2M1114.1 614.1h4.2M1116.2 612.0v4.2M1120.1 595.4h4.2M1122.2 593.3v4.2M1126.1 578.7h4.2M1128.2 576.6v4.2M1132.1 565.8h4.2M1134.2 563.7v4.2M1138.0 565.8h4.2M1140.1 563.7v4.2M1144.0 555.7h4.2M1146.1 553.6v4.2M1150.0 549.0h4.2M1152.1 546.9v4.2M1156.0 548.6h4.2M1158.1 546.5v4.2M1162.0 537.9h4.2M1164.1 535.8v4.2M1168.0 526.3h4.2M1170.1 524.2v4.2M1174.0 516.2h4.2M1176.1 514.1v4.2M1180.0 515.0h4.2M1182.1 512.9v4.2M1186.0 507.4h4.2M1188.1 505.3v4.2M1192.0 500.4h4.2M1194.1 498.3v4.2M1198.0 454.4h4.2M1200.1 452.3v4.2M1204.0 454.8h4.2M1206.1 452.7v4.2M1210.0 532.8h4.2M1212.1 530.7v4.2M1216.0 531.3h4.2M1218.1 529.2v4.2M1221.9 527.0h4.2M1224.0 524.9v4.2M1227.9 523.0h4.2M1230.0 520.9v4.2M1233.9 519.0h4.2M1236.0 516.9v4.2M1239.9 514.8h4.2M1242.0 512.7v4.2M1245.9 511.2h4.2M1248.0 509.1v4.2M1251.9 504.6h4.2M1254.0 502.5v4.2M1257.9 492.6h4.2M1260.0 490.5v4.2M1263.9 482.0h4.2M1266.0 479.9v4.2M1269.9 464.8h4.2M1272.0 462.7v4.2M1275.9 449.7h4.2M1278.0 447.6v4.2M1281.9 435.5h4.2M1284.0 433.4v4.2M1287.9 423.2h4.2M1290.0 421.1v4.2M1293.9 311.9h4.2M1296.0 309.8v4.2M1299.9 314.6h4.2M1302.0 312.5v4.2" stroke="#2962ff" stroke-width="1.25" fill="none"/>
<path d="M12.6 723.6h1.8v1.8h-1.8zM18.6 707.7h1.8v1.8h-1.8zM24.5 703.2h1.8v1.8h-1.8zM30.5 620.6h1.8v1.8h-1.8zM36.5 720.4h1.8v1.8h-1.8zM42.5 609.7h1.8v1.8h-1.8zM48.5 610.1h1.8v1.8h-1.8zM54.5 612.6h1.8v1.8h-1.8zM60.5 614.4h1.8v1.8h-1.8zM66.5 617.2h1.8v1.8h-1.8zM72.5 734.1h1.8v1.8h-1.8zM78.5 732.1h1.8v1.8h-1.8zM84.5 612.0h1.8v1.8h-1.8zM90.5 613.9h1.8v1.8h-1.8zM96.5 619.1h1.8v1.8h-1.8zM102.5 628.9h1.8v1.8h-1.8zM108.5 638.4h1.8v1.8h-1.8zM114.4 646.3h1.8v1.8h-1.8zM120.4 656.6h1.8v1.8h-1.8zM126.4 780.8h1.8v1.8h-1.8zM132.4 776.7h1.8v1.8h-1.8zM138.4 767.9h1.8v1.8h-1.8zM144.4 754.6h1.8v1.8h-1.8zM150.4 738.3h1.8v1.8h-1.8zM156.4 711.6h1.8v1.8h-1.8zM162.4 680.7h1.8v1.8h-1.8zM168.4 653.8h1.8v1.8h-1.8zM174.4 616.7h1.8v1.8h-1.8zM180.4 549.5h1.8v1.8h-1.8zM186.4 477.5h1.8v1.8h-1.8zM192.4 148.5h1.8v1.8h-1.8zM198.3 155.6h1.8v1.8h-1.8zM204.3 161.6h1.8v1.8h-1.8zM210.3 176.1h1.8v1.8h-1.8zM216.3 188.8h1.8v1.8h-1.8zM222.3 200.6h1.8v1.8h-1.8zM228.3 212.6h1.8v1.8h-1.8zM234.3 224.5h1.8v1.8h-1.8zM240.3 235.7h1.8v1.8h-1.8zM246.3 246.4h1.8v1.8h-1.8zM252.3 251.7h1.8v1.8h-1.8zM258.3 251.7h1.8v1.8h-1.8zM264.3 261.4h1.8v1.8h-1.8zM270.3 271.4h1.8v1.8h-1.8zM276.3 279.8h1.8v1.8h-1.8zM282.2 288.7h1.8v1.8h-1.8zM288.2 500.8h1.8v1.8h-1.8zM294.2 496.5h1.8v1.8h-1.8zM300.2 485.8h1.8v1.8h-1.8zM306.2 475.5h1.8v1.8h-1.8zM312.2 465.5h1.8v1.8h-1.8zM318.2 455.8h1.8v1.8h-1.8zM324.2 446.4h1.8v1.8h-1.8zM330.2 228.7h1.8v1.8h-1.8zM336.2 233.4h1.8v1.8h-1.8zM342.2 238.1h1.8v1.8h-1.8zM348.2 243.2h1.8v1.8h-1.8zM354.2 247.3h1.8v1.8h-1.8zM360.2 251.6h1.8v1.8h-1.8zM366.2 255.4h1.8v1.8h-1.8zM372.1 260.5h1.8v1.8h-1.8zM378.1 271.3h1.8v1.8h-1.8zM384.1 289.5h1.8v1.8h-1.8zM390.1 313.0h1.8v1.8h-1.8zM396.1 340.2h1.8v1.8h-1.8zM402.1 365.7h1.8v1.8h-1.8zM408.1 394.3h1.8v1.8h-1.8zM414.1 419.1h1.8v1.8h-1.8zM420.1 441.3h1.8v1.8h-1.8zM426.1 460.8h1.8v1.8h-1.8zM432.1 465.6h1.8v1.8h-1.8zM438.1 465.6h1.8v1.8h-1.8zM444.1 481.0h1.8v1.8h-1.8zM450.1 496.0h1.8v1.8h-1.8zM456.0 497.9h1.8v1.8h-1.8zM462.0 510.7h1.8v1.8h-1.8zM468.0 521.4h1.8v1.8h-1.8zM474.0 529.4h1.8v1.8h-1.8zM480.0 642.4h1.8v1.8h-1.8zM486.0 642.4h1.8v1.8h-1.8zM492.0 642.4h1.8v1.8h-1.8zM498.0 624.1h1.8v1.8h-1.8zM504.0 607.3h1.8v1.8h-1.8zM510.0 591.4h1.8v1.8h-1.8zM516.0 576.3h1.8v1.8h-1.8zM522.0 562.3h1.8v1.8h-1.8zM528.0 549.3h1.8v1.8h-1.8zM534.0 536.9h1.8v1.8h-1.8zM539.9 525.4h1.8v1.8h-1.8zM545.9 514.4h1.8v1.8h-1.8zM551.9 504.5h1.8v1.8h-1.8zM557.9 494.5h1.8v1.8h-1.8zM563.9 478.2h1.8v1.8h-1.8zM569.9 287.3h1.8v1.8h-1.8zM575.9 291.4h1.8v1.8h-1.8zM581.9 300.8h1.8v1.8h-1.8zM587.9 316.3h1.8v1.8h-1.8zM593.9 335.1h1.8v1.8h-1.8zM599.9 359.3h1.8v1.8h-1.8zM605.9 390.6h1.8v1.8h-1.8zM611.9 423.8h1.8v1.8h-1.8zM617.9 452.3h1.8v1.8h-1.8zM623.8 476.7h1.8v1.8h-1.8zM629.8 497.7h1.8v1.8h-1.8zM635.8 627.7h1.8v1.8h-1.8zM641.8 625.0h1.8v1.8h-1.8zM647.8 620.1h1.8v1.8h-1.8zM653.8 613.3h1.8v1.8h-1.8zM659.8 607.5h1.8v1.8h-1.8zM665.8 598.6h1.8v1.8h-1.8zM671.8 590.4h1.8v1.8h-1.8zM677.8 499.4h1.8v1.8h-1.8zM683.8 502.0h1.8v1.8h-1.8zM689.8 585.5h1.8v1.8h-1.8zM695.8 582.9h1.8v1.8h-1.8zM701.8 496.9h1.8v1.8h-1.8zM707.8 498.8h1.8v1.8h-1.8zM713.7 502.9h1.8v1.8h-1.8zM719.7 508.2h1.8v1.8h-1.8zM725.7 518.1h1.8v1.8h-1.8zM731.7 532.2h1.8v1.8h-1.8zM737.7 544.8h1.8v1.8h-1.8zM743.7 559.2h1.8v1.8h-1.8zM749.7 574.2h1.8v1.8h-1.8zM755.7 670.3h1.8v1.8h-1.8zM761.7 669.3h1.8v1.8h-1.8zM767.7 585.1h1.8v1.8h-1.8zM773.7 587.0h1.8v1.8h-1.8zM779.7 588.9h1.8v1.8h-1.8zM785.7 590.7h1.8v1.8h-1.8zM791.7 592.2h1.8v1.8h-1.8zM797.6 594.1h1.8v1.8h-1.8zM803.6 595.8h1.8v1.8h-1.8zM809.6 597.7h1.8v1.8h-1.8zM815.6 599.1h1.8v1.8h-1.8zM821.6 601.6h1.8v1.8h-1.8zM827.6 708.9h1.8v1.8h-1.8zM833.6 708.9h1.8v1.8h-1.8zM839.6 708.9h1.8v1.8h-1.8zM845.6 703.2h1.8v1.8h-1.8zM851.6 582.9h1.8v1.8h-1.8zM857.6 586.0h1.8v1.8h-1.8zM863.6 588.9h1.8v1.8h-1.8zM869.6 592.2h1.8v1.8h-1.8zM875.6 595.1h1.8v1.8h-1.8zM881.5 598.2h1.8v1.8h-1.8zM887.5 601.6h1.8v1.8h-1.8zM893.5 739.8h1.8v1.8h-1.8zM899.5 737.0h1.8v1.8h-1.8zM905.5 734.6h1.8v1.8h-1.8zM911.5 731.7h1.8v1.8h-1.8zM917.5 726.3h1.8v1.8h-1.8zM923.5 721.1h1.8v1.8h-1.8zM929.5 712.2h1.8v1.8h-1.8zM935.5 704.6h1.8v1.8h-1.8zM941.5 698.0h1.8v1.8h-1.8zM947.5 691.5h1.8v1.8h-1.8zM953.5 585.8h1.8v1.8h-1.8zM959.5 587.8h1.8v1.8h-1.8zM965.5 589.7h1.8v1.8h-1.8zM971.4 592.0h1.8v1.8h-1.8zM977.4 593.8h1.8v1.8h-1.8zM983.4 688.9h1.8v1.8h-1.8zM989.4 686.1h1.8v1.8h-1.8zM995.4 684.2h1.8v1.8h-1.8zM1001.4 682.0h1.8v1.8h-1.8zM1007.4 679.8h1.8v1.8h-1.8zM1013.4 677.3h1.8v1.8h-1.8zM1019.4 675.5h1.8v1.8h-1.8zM1025.4 673.6h1.8v1.8h-1.8zM1031.4 671.1h1.8v1.8h-1.8zM1037.4 669.3h1.8v1.8h-1.8zM1043.4 667.0h1.8v1.8h-1.8zM1049.4 665.1h1.8v1.8h-1.8zM1055.3 663.6h1.8v1.8h-1.8zM1061.3 661.8h1.8v1.8h-1.8zM1067.3 659.9h1.8v1.8h-1.8zM1073.3 658.0h1.8v1.8h-1.8zM1079.3 656.3h1.8v1.8h-1.8zM1085.3 654.3h1.8v1.8h-1.8zM1091.3 650.1h1.8v1.8h-1.8zM1097.3 643.2h1.8v1.8h-1.8zM1103.3 633.6h1.8v1.8h-1.8zM1109.3 624.8h1.8v1.8h-1.8zM1115.3 613.2h1.8v1.8h-1.8zM1121.3 594.5h1.8v1.8h-1.8zM1127.3 577.8h1.8v1.8h-1.8zM1133.3 564.9h1.8v1.8h-1.8zM1139.2 564.9h1.8v1.8h-1.8zM1145.2 554.8h1.8v1.8h-1.8zM1151.2 548.1h1.8v1.8h-1.8zM1157.2 547.7h1.8v1.8h-1.8zM1163.2 537.0h1.8v1.8h-1.8zM1169.2 525.4h1.8v1.8h-1.8zM1175.2 515.3h1.8v1.8h-1.8zM1181.2 514.1h1.8v1.8h-1.8zM1187.2 506.5h1.8v1.8h-1.8zM1193.2 499.5h1.8v1.8h-1.8zM1199.2 453.5h1.8v1.8h-1.8zM1205.2 453.9h1.8v1.8h-1.8zM1211.2 531.9h1.8v1.8h-1.8zM1217.2 530.4h1.8v1.8h-1.8zM1223.1 526.1h1.8v1.8h-1.8zM1229.1 522.1h1.8v1.8h-1.8zM1235.1 518.1h1.8v1.8h-1.8zM1241.1 513.9h1.8v1.8h-1.8zM1247.1 510.3h1.8v1.8h-1.8zM1253.1 503.7h1.8v1.8h-1.8zM1259.1 491.7h1.8v1.8h-1.8zM1265.1 481.1h1.8v1.8h-1.8zM1271.1 463.9h1.8v1.8h-1.8zM1277.1 448.8h1.8v1.8h-1.8zM1283.1 434.6h1.8v1.8h-1.8zM1289.1 422.3h1.8v1.8h-1.8zM1295.1 311.0h1.8v1.8h-1.8zM1301.1 313.7h1.8v1.8h-1.8z" fill="#2962ff"/>
</g>
<g clip-path="url(#cd)" fill="none" stroke-width="1.2" stroke-linejoin="round">
<path d="M13.8 938.6 L19.1 941.7 L25.5 940.3 L31.4 945.4 L37.2 940.7 L43.1 935.8 L49.3 939.6 L55.2 941.1 L60.6 933.2 L66.9 939.6 L72.9 944.5 L78.6 925.4 L85.0 925.8 L91.4 929.4 L96.7 918.4 L103.1 922.0 L109.4 925.4 L114.7 923.3 L121.1 933.2 L127.5 940.0 L132.8 942.8 L138.1 942.2 L144.5 946.0 L150.9 950.2 L157.2 954.5 L163.6 957.3 L170.0 960.9 L175.3 967.2 L181.0 969.8 L187.0 960.9 L192.3 916.7 L198.7 922.6 L205.1 930.1 L211.0 933.9 L216.7 938.6 L223.1 941.7 L229.1 930.5 L234.8 932.6 L241.2 936.4 L247.1 939.6 L252.9 941.7 L258.2 921.6 L264.6 923.7 L270.9 925.8 L276.2 927.3 L282.6 932.2 L289.0 935.4 L294.3 939.0 L300.7 941.7 L306.0 932.6 L312.4 934.7 L318.7 912.0 L325.1 909.9 L330.0 906.7 L336.4 912.0 L342.7 917.3 L349.1 920.9 L354.4 920.5 L360.8 923.7 L367.2 928.4 L372.5 900.3 L378.9 895.0 L384.8 893.9 L390.6 895.0 L396.9 897.8 L401.8 896.5 L408.6 906.7 L415.0 912.0 L421.4 913.7 L425.6 911.6 L432.0 913.5 L438.4 913.5 L444.7 911.4 L450.7 908.4 L456.4 908.8 L462.8 914.1 L468.1 916.7 L474.5 909.4 L479.8 926.9 L486.2 933.2 L491.9 935.4 L498.3 912.6 L504.2 918.4 L510.6 922.0 L517.0 923.3 L522.3 924.7 L528.7 924.7 L535.1 926.2 L540.4 919.4 L545.7 912.0 L552.1 915.2 L557.4 927.9 L563.7 935.4 L570.1 941.7 L576.5 932.2 L582.4 924.3 L588.2 926.9 L594.6 926.4 L600.9 914.8 L606.2 916.2 L612.6 918.8 L619.0 921.6 L624.3 926.4 L630.7 930.5 L636.0 932.8 L642.4 930.5 L648.7 930.5 L654.1 932.2 L660.0 936.4 L666.4 939.6 L671.7 932.2 L678.1 933.9 L683.4 936.4 L689.7 939.0 L696.1 933.2 L701.9 924.7 L707.8 926.9 L713.5 932.2 L719.5 922.6 L725.9 914.1 L732.2 921.6 L738.6 921.1 L743.9 924.7 L749.2 929.6 L755.6 932.8 L763.1 927.9 L768.4 910.3 L774.7 912.6 L781.1 915.6 L787.5 919.9 L792.8 923.0 L799.2 916.2 L804.5 918.4 L810.9 920.5 L816.2 909.9 L821.5 901.8 L827.9 916.2 L833.6 924.7 L839.6 916.9 L844.9 912.0 L852.3 895.0 L857.6 902.4 L864.0 905.2 L869.7 908.8 L876.7 898.8 L882.1 904.1 L888.4 909.9 L893.7 913.5 L900.1 916.2 L906.5 919.0 L911.8 923.0 L918.2 925.8 L923.9 928.4 L929.9 915.6 L935.6 904.6 L941.6 907.7 L947.9 896.5 L954.3 897.5 L959.6 903.5 L966.0 910.3 L972.4 915.6 L977.7 920.5 L984.1 930.1 L990.0 934.9 L996.4 937.5 L1002.7 939.0 L1008.1 934.3 L1014.4 928.4 L1020.8 930.5 L1026.1 921.6 L1031.4 923.7 L1037.8 927.9 L1044.2 930.5 L1050.1 933.2 L1055.9 936.9 L1061.8 932.2 L1067.6 938.1 L1073.9 942.8 L1080.3 947.1 L1086.7 951.3 L1092.0 954.5 L1098.4 956.2 L1103.7 956.6 L1110.1 961.3 L1116.4 966.2 L1121.1 967.2 L1128.1 926.4 L1134.5 929.6 L1139.8 931.8 L1145.5 936.9 L1151.5 940.0 L1157.9 943.2 L1164.2 948.1 L1169.6 948.5 L1175.9 951.3 L1182.3 953.4 L1187.6 955.1 L1194.0 955.1 L1199.3 933.9 L1205.7 936.0 L1212.1 940.0 L1218.0 944.3 L1223.7 946.4 L1230.1 935.4 L1235.9 929.0 L1241.8 933.9 L1247.8 938.6 L1253.5 943.4 L1259.9 944.9 L1265.2 950.7 L1271.6 955.1 L1276.9 941.1 L1283.9 942.8 L1289.6 927.5 L1296.0 926.9 L1301.9 928.6" stroke="#ff6d00"/>
<path d="M13.8 908.8 L20.2 914.1 L25.5 919.4 L31.4 914.1 L37.2 923.7 L43.6 930.1 L49.3 930.5 L55.2 928.6 L61.6 931.5 L67.6 909.4 L73.3 913.1 L79.7 920.5 L85.0 925.4 L91.4 925.4 L97.7 930.1 L104.1 930.5 L109.4 933.9 L114.7 937.5 L120.1 914.1 L126.4 883.3 L132.8 881.2 L139.2 889.7 L145.6 893.9 L151.3 876.3 L157.2 878.0 L163.2 884.4 L170.0 859.9 L174.2 831.2 L179.6 827.0 L185.9 837.6 L192.3 869.5 L198.7 878.0 L205.1 883.7 L210.4 884.4 L216.7 880.8 L223.1 886.5 L229.1 895.0 L234.8 902.4 L241.2 899.2 L247.6 896.5 L252.9 902.4 L258.8 912.0 L264.6 914.1 L270.9 913.5 L277.3 914.5 L282.6 905.6 L289.0 897.1 L294.3 885.9 L300.7 889.7 L307.1 897.1 L312.8 901.4 L318.7 910.9 L325.1 916.2 L330.0 919.4 L336.4 925.4 L341.7 918.4 L348.1 920.5 L354.4 926.4 L360.2 932.6 L367.2 920.9 L372.5 931.1 L378.9 933.9 L385.2 936.4 L390.6 937.5 L395.9 938.6 L401.8 942.8 L408.6 932.2 L413.9 929.0 L420.3 931.1 L426.7 934.3 L433.1 936.9 L439.4 939.6 L444.7 941.7 L451.1 944.3 L457.5 946.6 L463.4 947.1 L469.2 949.8 L474.5 952.8 L478.7 915.2 L486.8 904.6 L492.6 907.1 L497.9 914.1 L504.2 916.2 L510.6 919.4 L517.0 922.6 L522.3 923.7 L528.7 926.2 L535.1 924.7 L540.4 927.9 L546.7 932.2 L552.7 934.3 L558.0 892.9 L564.8 900.3 L570.1 903.5 L577.6 915.2 L582.9 918.4 L588.2 920.5 L594.6 926.4 L599.9 929.6 L606.2 932.8 L611.6 931.5 L617.9 933.2 L624.3 924.7 L630.7 916.7 L637.1 919.4 L642.4 922.6 L648.7 926.9 L654.1 929.6 L660.0 922.0 L666.4 925.8 L671.7 931.5 L677.0 933.7 L683.4 924.1 L689.7 920.9 L696.1 924.7 L702.5 930.5 L707.8 933.7 L714.2 935.8 L719.5 939.6 L725.4 942.8 L732.2 928.4 L738.6 931.1 L745.0 931.1 L750.3 928.6 L755.6 921.1 L763.1 924.7 L768.4 929.0 L774.7 931.1 L780.1 932.6 L786.4 918.4 L792.8 922.6 L799.2 926.2 L804.5 928.4 L810.9 929.6 L816.2 934.3 L821.5 937.9 L827.9 913.5 L833.2 914.5 L839.6 919.0 L844.9 922.6 L852.3 930.1 L857.6 923.7 L864.0 923.3 L869.3 922.6 L875.7 928.6 L882.1 933.2 L887.4 921.1 L893.7 918.4 L900.1 921.6 L906.5 922.6 L911.8 918.4 L918.2 920.5 L924.6 921.6 L929.9 926.4 L936.2 930.7 L941.6 932.6 L947.9 937.1 L954.3 940.0 L959.6 933.2 L966.0 936.9 L971.9 920.5 L977.7 921.1 L984.1 904.6 L990.0 910.5 L996.4 910.3 L1002.7 914.1 L1008.1 916.9 L1014.4 920.1 L1019.7 919.4 L1026.1 923.7 L1031.4 925.8 L1037.8 913.5 L1043.1 915.2 L1049.5 909.9 L1054.8 905.0 L1061.8 910.9 L1067.6 903.5 L1073.9 900.3 L1079.2 906.3 L1085.6 892.9 L1092.0 879.1 L1098.4 884.4 L1103.7 891.4 L1109.0 890.3 L1115.8 871.0 L1121.7 878.0 L1128.1 897.1 L1133.4 902.0 L1139.8 902.9 L1145.5 892.9 L1151.5 893.3 L1157.4 898.2 L1164.2 885.4 L1169.6 895.0 L1174.9 899.9 L1181.9 894.4 L1187.6 899.2 L1194.0 904.1 L1199.3 916.2 L1206.1 918.4 L1212.1 901.4 L1218.0 889.3 L1223.7 894.4 L1230.1 899.9 L1235.9 905.6 L1241.8 889.3 L1247.8 882.9 L1253.1 862.7 L1259.9 866.7 L1265.2 845.1 L1271.6 860.4 L1276.9 875.4 L1283.2 880.1 L1289.6 889.3 L1296.0 894.4 L1301.9 898.2" stroke="#2962ff"/>
<path d="M13.8 907.3 L20.2 908.2 L25.5 909.4 L31.4 909.0 L37.2 912.0 L43.6 916.2 L49.3 920.1 L55.2 922.6 L61.6 926.9 L67.6 925.8 L73.3 924.7 L79.7 927.9 L85.0 932.2 L91.4 935.8 L97.7 938.1 L104.1 940.0 L110.5 942.2 L115.8 942.8 L121.1 942.4 L125.4 938.6 L131.7 933.2 L138.1 927.9 L144.5 922.6 L150.9 915.6 L157.2 908.8 L163.6 901.4 L170.0 892.9 L175.9 882.2 L181.7 871.6 L187.0 862.1 L192.3 864.8 L198.7 867.8 L205.1 870.1 L211.4 871.2 L217.8 871.2 L223.1 871.0 L228.4 873.7 L233.7 876.3 L240.1 878.6 L246.5 879.5 L252.4 880.5 L258.2 885.4 L264.6 891.2 L270.9 897.1 L276.2 900.9 L282.6 903.9 L287.9 904.1 L294.3 902.4 L300.7 900.3 L307.1 900.9 L312.4 901.4 L318.7 907.7 L325.1 913.1 L330.0 915.2 L336.4 919.4 L342.7 924.7 L349.1 930.1 L355.5 933.2 L361.9 935.8 L367.8 937.5 L373.6 936.0 L379.9 933.2 L386.3 930.1 L393.7 926.9 L402.2 922.2 L408.6 923.0 L415.0 924.7 L421.4 926.4 L427.7 927.3 L434.1 927.3 L440.5 926.4 L446.9 924.3 L453.2 921.6 L459.6 918.8 L466.0 916.2 L472.4 913.7 L478.7 915.8 L485.1 917.3 L491.5 917.7 L497.9 921.6 L504.2 926.9 L510.6 932.2 L517.0 937.1 L523.4 940.7 L529.7 944.3 L535.1 946.6 L540.4 948.1 L546.7 947.7 L553.1 947.1 L559.5 944.3 L565.9 941.7 L572.2 938.6 L577.6 939.6 L582.9 942.2 L589.2 944.9 L594.6 947.5 L600.9 948.1 L606.2 948.1 L612.6 949.2 L619.0 950.2 L624.3 952.4 L630.7 952.8 L637.1 952.8 L642.4 954.1 L648.7 955.6 L654.1 957.0 L660.0 957.0 L666.4 956.6 L671.7 958.7 L678.1 960.9 L684.4 960.4 L689.7 959.2 L696.1 960.2 L702.5 961.3 L707.8 961.9 L714.2 963.4 L719.5 961.9 L725.9 958.1 L732.2 959.4 L738.6 960.2 L745.0 961.3 L751.4 963.0 L756.7 962.6 L763.1 963.6 L769.4 962.4 L774.7 960.9 L780.1 960.4 L786.4 962.4 L792.8 964.1 L799.2 964.5 L804.5 964.5 L810.9 964.5 L816.2 961.5 L821.5 958.1 L827.9 959.8 L834.2 960.9 L839.6 961.5 L844.9 961.5 L851.2 958.7 L856.6 957.3 L862.9 957.0 L869.3 956.6 L875.7 954.9 L882.1 952.4 L887.4 953.0 L893.7 955.1 L900.1 957.0 L906.5 959.2 L911.8 960.4 L918.2 961.5 L924.6 962.4 L929.9 961.9 L936.2 959.8 L942.6 957.3 L947.9 953.4 L954.3 949.2 L959.6 946.6 L966.0 944.9 L971.3 947.1 L977.7 950.2 L984.1 948.8 L990.0 947.1 L996.4 944.9 L1002.7 943.4 L1008.1 943.9 L1014.4 946.0 L1019.7 947.1 L1026.1 950.2 L1031.4 952.4 L1037.8 952.8 L1044.2 952.8 L1049.5 951.3 L1055.9 949.2 L1062.2 948.1 L1067.6 946.0 L1073.9 941.7 L1080.3 937.1 L1085.6 932.2 L1092.0 923.7 L1098.4 916.2 L1103.7 908.8 L1110.1 900.3 L1116.4 890.7 L1121.7 882.9 L1128.1 885.9 L1134.5 888.6 L1139.8 890.3 L1146.2 890.7 L1151.5 890.1 L1157.9 889.3 L1163.2 886.5 L1169.6 883.7 L1175.9 881.2 L1181.2 879.1 L1187.6 875.9 L1194.0 874.4 L1199.3 879.1 L1205.7 883.3 L1211.0 884.8 L1217.4 883.3 L1223.3 881.6 L1229.1 883.3 L1235.4 886.9 L1241.8 888.2 L1247.1 887.1 L1253.5 882.9 L1259.9 879.1 L1265.2 873.3 L1271.6 867.8 L1277.9 866.3 L1283.2 865.7 L1289.6 868.9 L1296.0 872.3 L1301.9 875.9" stroke="#f50057"/>
</g>
<g stroke="#e9e9ec" stroke-width="1" fill="none" shape-rendering="crispEdges">
<rect x="13.5" y="36.5" width="1572.5" height="986.0" stroke="#efeff1"/>
<line x1="13.5" y1="809.5" x2="1586.0" y2="809.5"/>
</g>
<text x="14.0" y="26.6" fill="#131722" stroke="#131722" stroke-width="0.2" textLength="552.5" lengthAdjust="spacingAndGlyphs">ChartAnalysis_4 created with TradingView.com, Sep 14, 2025 09:54 UTC</text>
<text x="24.5" y="62.7" fill="#131722" stroke="#131722" stroke-width="0.2" textLength="266.5" lengthAdjust="spacingAndGlyphs">Cardano / US Dollar · 4h · Coinbase</text>
<text x="302.4" y="62.7" fill="#131722" stroke="#131722" stroke-width="0.2" textLength="10.1" lengthAdjust="spacingAndGlyphs">O</text>
<text x="314.0" y="62.7" fill="#089981" stroke="#089981" stroke-width="0.2" textLength="48.5" lengthAdjust="spacingAndGlyphs">0.9161</text>
<text x="372.9" y="62.7" fill="#131722" stroke="#131722" stroke-width="0.2" textLength="9.7" lengthAdjust="spacingAndGlyphs">H</text>
<text x="384.0" y="62.7" fill="#089981" stroke="#089981" stroke-width="0.2" textLength="53.3" lengthAdjust="spacingAndGlyphs">0.9200</text>
<text x="448.2" y="62.7" fill="#131722" stroke="#131722" stroke-width="0.2" textLength="6.3" lengthAdjust="spacingAndGlyphs">L</text>
<text x="456.0" y="62.7" fill="#089981" stroke="#089981" stroke-width="0.2" textLength="50.3" lengthAdjust="spacingAndGlyphs">0.9122</text>
<text x="517.2" y="62.7" fill="#131722" stroke="#131722" stroke-width="0.2" textLength="9.5" lengthAdjust="spacingAndGlyphs">C</text>
<text x="528.0" y="62.7" fill="#089981" stroke="#089981" stroke-width="0.2" textLength="49.6" lengthAdjust="spacingAndGlyphs">0.9170</text>
<text x="587.6" y="62.7" fill="#089981" stroke="#089981" stroke-width="0.2" textLength="136.6" lengthAdjust="spacingAndGlyphs">+0.0009 (+0.10%)</text>
<text x="24.5" y="85.6" fill="#131722" stroke="#131722" stroke-width="0.2" textLength="155.5" lengthAdjust="spacingAndGlyphs">SAR (0.02, 0.02, 0.2)</text>
<text x="191.0" y="85.6" fill="#2962ff" stroke="#2962ff" stroke-width="0.2" textLength="53.5" lengthAdjust="spacingAndGlyphs">0.9534</text>
<text x="25.0" y="836.9" fill="#131722" stroke="#131722" stroke-width="0.2" textLength="89.7" lengthAdjust="spacingAndGlyphs">DMI (14, 14)</text>
<text x="125.8" y="836.9" fill="#f50057" stroke="#f50057" stroke-width="0.2" textLength="62.9" lengthAdjust="spacingAndGlyphs">32.9068</text>
<text x="199.7" y="836.9" fill="#2962ff" stroke="#2962ff" stroke-width="0.2" textLength="62.7" lengthAdjust="spacingAndGlyphs">26.6466</text>
<text x="273.0" y="836.9" fill="#ff6d00" stroke="#ff6d00" stroke-width="0.2" textLength="56.4" lengthAdjust="spacingAndGlyphs">17.8130</text>
<text x="1502.5" y="54.8" fill="#131722" stroke="#131722" stroke-width="0.2" textLength="53.9" lengthAdjust="spacingAndGlyphs">1.0600</text>
<text x="1502.5" y="104.6" fill="#131722" stroke="#131722" stroke-width="0.2" textLength="53.9" lengthAdjust="spacingAndGlyphs">1.0400</text>
<text x="1502.5" y="154.5" fill="#131722" stroke="#131722" stroke-width="0.2" textLength="53.9" lengthAdjust="spacingAndGlyphs">1.0200</text>
<text x="1502.5" y="204.3" fill="#131722" stroke="#131722" stroke-width="0.2" textLength="53.9" lengthAdjust="spacingAndGlyphs">1.0000</text>
<text x="1502.5" y="254.1" fill="#131722" stroke="#131722" stroke-width="0.2" textLength="53.9" lengthAdjust="spacingAndGlyphs">0.9800</text>
<text x="1502.5" y="304.0" fill="#131722" stroke="#131722" stroke-width="0.2" textLength="53.9" lengthAdjust="spacingAndGlyphs">0.9600</text>
<text x="1502.5" y="353.8" fill="#131722" stroke="#131722" stroke-width="0.2" textLength="53.9" lengthAdjust="spacingAndGlyphs">0.9400</text>
<text x="1502.5" y="403.7" fill="#131722" stroke="#131722" stroke-width="0.2" textLength="53.9" lengthAdjust="spacingAndGlyphs">0.9200</text>
<text x="1502.5" y="453.6" fill="#131722" stroke="#131722" stroke-width="0.2" textLength="53.9" lengthAdjust="spacingAndGlyphs">0.9000</text>
<text x="1502.5" y="503.4" fill="#131722" stroke="#131722" stroke-width="0.2" textLength="53.9" lengthAdjust="spacingAndGlyphs">0.8800</text>
<text x="1502.5" y="553.2" fill="#131722" stroke="#131722" stroke-width="0.2" textLength="53.9" lengthAdjust="spacingAndGlyphs">0.8600</text>
<text x="1502.5" y="603.1" fill="#131722" stroke="#131722" stroke-width="0.2" textLength="53.9" lengthAdjust="spacingAndGlyphs">0.8400</text>
<text x="1502.5" y="652.9" fill="#131722" stroke="#131722" stroke-width="0.2" textLength="53.9" lengthAdjust="spacingAndGlyphs">0.8200</text>
<text x="1502.5" y="702.8" fill="#131722" stroke="#131722" stroke-width="0.2" textLength="53.9" lengthAdjust="spacingAndGlyphs">0.8000</text>
<text x="1502.5" y="752.7" fill="#131722" stroke="#131722" stroke-width="0.2" textLength="53.9" lengthAdjust="spacingAndGlyphs">0.7800</text>
<text x="1502.5" y="802.5" fill="#131722" stroke="#131722" stroke-width="0.2" textLength="53.9" lengthAdjust="spacingAndGlyphs">0.7600</text>
<text x="1503.0" y="857.1" fill="#131722" stroke="#131722" stroke-width="0.2" textLength="63.6" lengthAdjust="spacingAndGlyphs">40.0000</text>
<text x="1503.0" y="927.1" fill="#131722" stroke="#131722" stroke-width="0.2" textLength="63.6" lengthAdjust="spacingAndGlyphs">20.0000</text>
<rect x="1491" y="303.3" width="74" height="22.1" rx="2" fill="#2962ff"/>
<text x="1502.5" y="319.9" fill="#fff" stroke="#fff" stroke-width="0.2" textLength="53.9" lengthAdjust="spacingAndGlyphs">0.9534</text>
<rect x="1491" y="394.3" width="88.3" height="40.5" rx="2" fill="#089981"/>
<text x="1502.5" y="410.9" fill="#fff" stroke="#fff" stroke-width="0.2" textLength="53.9" lengthAdjust="spacingAndGlyphs">0.9170</text>
<text x="1502.5" y="429.7" fill="#c9ece6" stroke="#c9ece6" stroke-width="0.2" textLength="68.9" lengthAdjust="spacingAndGlyphs">02:05:20</text>
<rect x="1491.2" y="865.1" width="82.8" height="22.6" rx="2" fill="#f50057"/>
<text x="1503.0" y="882.0" fill="#fff" stroke="#fff" stroke-width="0.2" textLength="64.0" lengthAdjust="spacingAndGlyphs">32.9068</text>
<rect x="1491.2" y="887.7" width="82.8" height="22.6" rx="2" fill="#2962ff"/>
<text x="1503.0" y="904.4" fill="#fff" stroke="#fff" stroke-width="0.2" textLength="64.0" lengthAdjust="spacingAndGlyphs">26.6466</text>
<rect x="1491.2" y="918.1" width="82.8" height="21.7" rx="2" fill="#ff6d00"/>
<text x="1505.0" y="934.2" fill="#fff" stroke="#fff" stroke-width="0.2" textLength="62.0" lengthAdjust="spacingAndGlyphs">17.8130</text>
<text x="59.2" y="1010.6" fill="#131722" stroke="#131722" stroke-width="0.2" textLength="16.5" lengthAdjust="spacingAndGlyphs">11</text>
<text x="130.5" y="1010.6" fill="#131722" stroke="#131722" stroke-width="0.2" textLength="17.8" lengthAdjust="spacingAndGlyphs">13</text>
<text x="202.4" y="1010.6" fill="#131722" stroke="#131722" stroke-width="0.2" textLength="17.8" lengthAdjust="spacingAndGlyphs">15</text>
<text x="274.3" y="1010.6" fill="#131722" stroke="#131722" stroke-width="0.2" textLength="17.8" lengthAdjust="spacingAndGlyphs">17</text>
<text x="346.3" y="1010.6" fill="#131722" stroke="#131722" stroke-width="0.2" textLength="17.8" lengthAdjust="spacingAndGlyphs">19</text>
<text x="418.2" y="1010.6" fill="#131722" stroke="#131722" stroke-width="0.2" textLength="17.8" lengthAdjust="spacingAndGlyphs">21</text>
<text x="490.1" y="1010.6" fill="#131722" stroke="#131722" stroke-width="0.2" textLength="17.8" lengthAdjust="spacingAndGlyphs">23</text>
<text x="562.0" y="1010.6" fill="#131722" stroke="#131722" stroke-width="0.2" textLength="17.8" lengthAdjust="spacingAndGlyphs">25</text>
<text x="633.9" y="1010.6" fill="#131722" stroke="#131722" stroke-width="0.2" textLength="17.8" lengthAdjust="spacingAndGlyphs">27</text>
<text x="705.8" y="1010.6" fill="#131722" stroke="#131722" stroke-width="0.2" textLength="17.8" lengthAdjust="spacingAndGlyphs">29</text>
<text x="807.6" y="1010.6" fill="#131722" stroke="#131722" stroke-width="0.2" font-weight="bold" textLength="30.0" lengthAdjust="spacingAndGlyphs">Sep</text>
<text x="890.4" y="1010.6" fill="#131722" stroke="#131722" stroke-width="0.2" textLength="8.2" lengthAdjust="spacingAndGlyphs">3</text>
<text x="962.4" y="1010.6" fill="#131722" stroke="#131722" stroke-width="0.2" textLength="8.2" lengthAdjust="spacingAndGlyphs">5</text>
<text x="1034.3" y="1010.6" fill="#131722" stroke="#131722" stroke-width="0.2" textLength="8.2" lengthAdjust="spacingAndGlyphs">7</text>
<text x="1106.2" y="1010.6" fill="#131722" stroke="#131722" stroke-width="0.2" textLength="8.2" lengthAdjust="spacingAndGlyphs">9</text>
<text x="1173.9" y="1010.6" fill="#131722" stroke="#131722" stroke-width="0.2" textLength="16.5" lengthAdjust="spacingAndGlyphs">11</text>
<text x="1245.2" y="1010.6" fill="#131722" stroke="#131722" stroke-width="0.2" textLength="17.8" lengthAdjust="spacingAndGlyphs">13</text>
<text x="1317.1" y="1010.6" fill="#131722" stroke="#131722" stroke-width="0.2" textLength="17.8" lengthAdjust="spacingAndGlyphs">15</text>
<text x="1389.0" y="1010.6" fill="#131722" stroke="#131722" stroke-width="0.2" textLength="17.8" lengthAdjust="spacingAndGlyphs">17</text>
<text x="1461.0" y="1010.6" fill="#131722" stroke="#131722" stroke-width="0.2" textLength="17.8" lengthAdjust="spacingAndGlyphs">19</text>
<g fill="none" stroke="#8e24aa" stroke-width="1.7"><path d="M1308.1 780.2 A13 13 0 1 0 1314.0 787.8"/></g>
<path d="M1304.7 785.2 L1295.9 792.6 L1300.9 792.6 L1298.1 798.4 L1306.9 790.4 L1301.9 790.4 Z" fill="#8e24aa"/>
<circle cx="1311.1" cy="782.4" r="3.3" fill="#f23645"/>
<circle cx="1379.7" cy="790.9" r="13.6" fill="#fff" stroke="#f23645" stroke-width="1.7"/>
<clipPath id="f1379"><circle cx="1379.7" cy="790.9" r="10.4"/></clipPath>
<g clip-path="url(#f1379)">
<rect x="1368.7" y="779.9" width="22" height="22" fill="#fff"/>
<rect x="1368.7" y="780.50" width="22" height="4.16" fill="#ef5350"/>
<rect x="1368.7" y="788.82" width="22" height="4.16" fill="#ef5350"/>
<rect x="1368.7" y="797.14" width="22" height="4.16" fill="#ef5350"/>
<rect x="1368.7" y="779.9" width="13.2" height="13.1" fill="#2f8cf0"/>
<rect x="1371.0" y="782.3" width="1.7" height="1.7" fill="#fff"/>
<rect x="1374.7" y="782.3" width="1.7" height="1.7" fill="#fff"/>
<rect x="1378.4" y="782.3" width="1.7" height="1.7" fill="#fff"/>
<rect x="1371.0" y="785.9" width="1.7" height="1.7" fill="#fff"/>
<rect x="1374.7" y="785.9" width="1.7" height="1.7" fill="#fff"/>
<rect x="1378.4" y="785.9" width="1.7" height="1.7" fill="#fff"/>
<rect x="1371.0" y="789.5" width="1.7" height="1.7" fill="#fff"/>
<rect x="1374.7" y="789.5" width="1.7" height="1.7" fill="#fff"/>
<rect x="1378.4" y="789.5" width="1.7" height="1.7" fill="#fff"/>
</g>
<circle cx="1421.4" cy="790.9" r="13.6" fill="#fff" stroke="#f23645" stroke-width="1.7"/>
<circle cx="1415.7" cy="790.9" r="13.6" fill="#fff" stroke="#f23645" stroke-width="1.7"/>
<clipPath id="f1415"><circle cx="1415.7" cy="790.9" r="10.4"/></clipPath>
<g clip-path="url(#f1415)">
<rect x="1404.7" y="779.9" width="22" height="22" fill="#fff"/>
<rect x="1404.7" y="780.50" width="22" height="4.16" fill="#ef5350"/>
<rect x="1404.7" y="788.82" width="22" height="4.16" fill="#ef5350"/>
<rect x="1404.7" y="797.14" width="22" height="4.16" fill="#ef5350"/>
<rect x="1404.7" y="779.9" width="13.2" height="13.1" fill="#2f8cf0"/>
<rect x="1407.0" y="782.3" width="1.7" height="1.7" fill="#fff"/>
<rect x="1410.7" y="782.3" width="1.7" height="1.7" fill="#fff"/>
<rect x="1414.4" y="782.3" width="1.7" height="1.7" fill="#fff"/>
<rect x="1407.0" y="785.9" width="1.7" height="1.7" fill="#fff"/>
<rect x="1410.7" y="785.9" width="1.7" height="1.7" fill="#fff"/>
<rect x="1414.4" y="785.9" width="1.7" height="1.7" fill="#fff"/>
<rect x="1407.0" y="789.5" width="1.7" height="1.7" fill="#fff"/>
<rect x="1410.7" y="789.5" width="1.7" height="1.7" fill="#fff"/>
<rect x="1414.4" y="789.5" width="1.7" height="1.7" fill="#fff"/>
</g>
<g fill="#111">
<path d="M16.2 1052.7H33.2V1072.6H24.4V1059.6H16.2Z"/>
<circle cx="39.1" cy="1055.9" r="3.25"/>
<path d="M47.1 1052.7H56.1L48.8 1072.6H39.8Z"/>
</g>
<text x="66.3" y="1072.5" fill="#111" stroke="#111" stroke-width="0.5" font-size="27.6" font-weight="bold" textLength="162.0" lengthAdjust="spacingAndGlyphs">TradingView</text>
</svg>
</body></html>
